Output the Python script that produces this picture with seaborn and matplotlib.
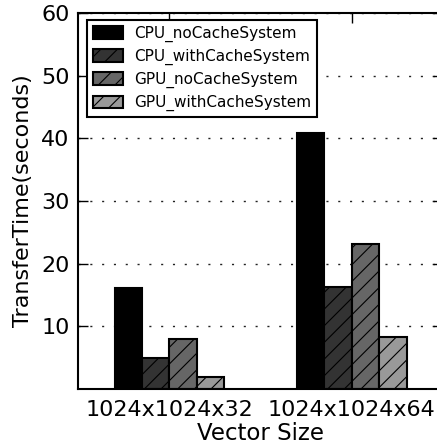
import pandas as pd
import numpy as np
import seaborn as sns
import matplotlib.pyplot as plt

sizes = ['1024x1024x32', '1024x1024x64']
systems = ['CPU_noCacheSystem', 'CPU_withCacheSystem', 'GPU_noCacheSystem', 'GPU_withCacheSystem']
cpu_no = [16.1, 40.8]
cpu_with = [5.0, 16.2]
gpu_no = [7.9, 23.1]
gpu_with = [1.9, 8.3]

colors = ['#000000', '#333333', '#666666', '#999999']
hatches = ['', '//', '//', '//']

# long form table for seaborn
rows = []
for name, vals in zip(systems, [cpu_no, cpu_with, gpu_no, gpu_with]):
    for s, v in zip(sizes, vals):
        rows.append({'size': s, 'system': name, 'time': v})
df = pd.DataFrame(rows)

sns.set_style('white')
plt.rcParams['font.family'] = ['DejaVu Sans']
plt.rcParams['hatch.linewidth'] = 0.8
plt.rcParams['text.color'] = 'black'
plt.rcParams['axes.labelcolor'] = 'black'
plt.rcParams['xtick.color'] = 'black'
plt.rcParams['ytick.color'] = 'black'

fig = plt.figure(figsize=(4.37, 4.48), dpi=100)
ax = fig.add_axes([78/437, 1 - 389/448, 365/437, 376/448])

sns.barplot(data=df, x='size', y='time', hue='system', hue_order=systems,
            palette=colors, width=0.6, gap=0, ax=ax, legend=False,
            edgecolor='black', linewidth=1.5, saturation=1)

for cont, h in zip(ax.containers, hatches):
    for p in cont.patches:
        p.set_hatch(h)

handles = [cont.patches[0] for cont in ax.containers]
leg = ax.legend(handles, systems, loc='upper left', fontsize=11,
                fancybox=False, framealpha=1, edgecolor='black',
                handlelength=2.0, handleheight=0.9, borderpad=0.4,
                labelspacing=0.45, handletextpad=0.7, borderaxespad=0,
                bbox_to_anchor=(0.024, 0.982))
leg.get_frame().set_linewidth(1.5)

ax.set_xlim(-0.5, 1.5)
ax.set_ylim(0, 60)
ax.set_yticks([10, 20, 30, 40, 50, 60])
ax.yaxis.grid(True, linestyle=(0, (1.5, 7)), color='#222222', linewidth=1)
ax.set_axisbelow(True)
for sp in ax.spines.values():
    sp.set_linewidth(1.5)
    sp.set_color('black')
ax.tick_params(direction='in', length=7, width=1, labelsize=16,
               top=True, right=True, left=True, bottom=True)
ax.tick_params(axis='x', pad=8)
ax.tick_params(axis='y', pad=6)
ax.set_xlabel('Vector Size', fontsize=16.5, labelpad=1)
ax.set_ylabel('TransferTime(seconds)', fontsize=16, labelpad=6)

fig.savefig('out.png', dpi=100)
